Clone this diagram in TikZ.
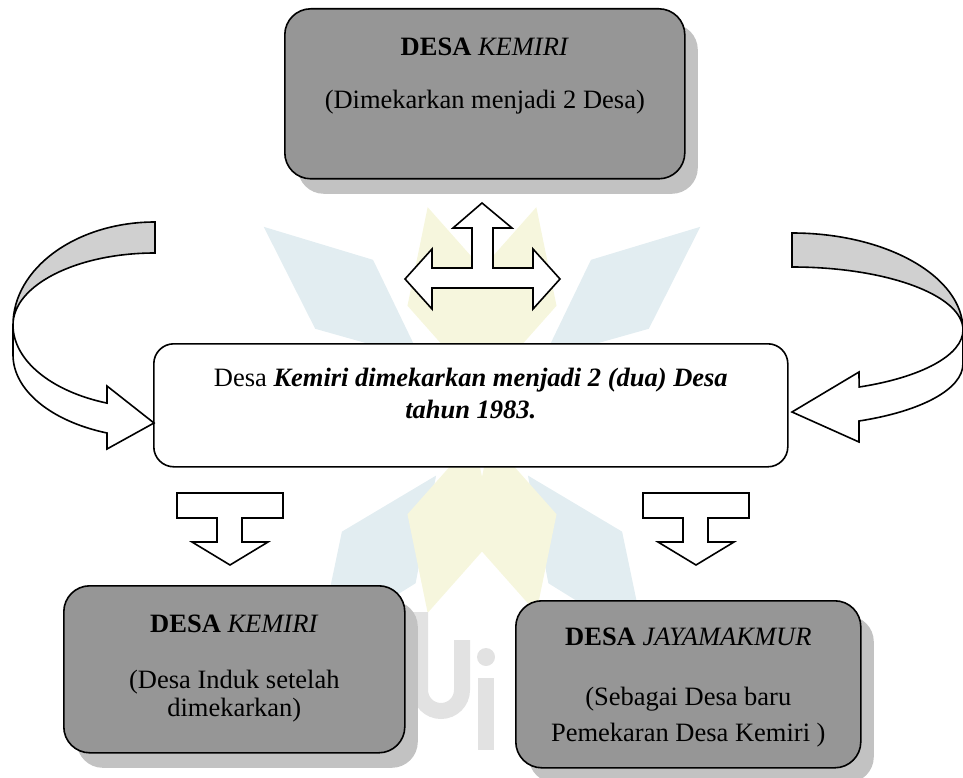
\documentclass[tikz,border=0pt]{standalone}
\usepackage{fontspec}
\setmainfont{Liberation Serif}
\usetikzlibrary{shadows}

\definecolor{boxgray}{RGB}{150,150,150}
\definecolor{shadowgray}{RGB}{194,194,194}
\definecolor{bandgray}{RGB}{208,208,208}
\definecolor{markteal}{RGB}{226,237,241}
\definecolor{markyellow}{RGB}{246,246,221}
\definecolor{markgray}{RGB}{226,226,226}

\begin{document}
\begin{tikzpicture}[
    x=1pt, y=-1pt,
    font=\fontsize{26.5}{30}\selectfont,
    desabox/.style={rectangle, draw, line width=1.6pt, rounded corners=26pt, fill=boxgray, anchor=north west, inner sep=0pt, align=center, drop shadow={shadow xshift=13pt, shadow yshift=-15pt, fill=shadowgray, opacity=1}},
    midbox/.style={rectangle, draw, line width=1.6pt, rounded corners=20pt, fill=white, anchor=north west, inner sep=0pt, align=center},
    blockarrow/.style={draw, line width=1.6pt, fill=white},
    backband/.style={draw, line width=1.6pt, fill=bandgray},
    petal/.style={draw=none}
]
\useasboundingbox (0,0) rectangle (963,778);

% watermark
\foreach \ang/\col in {235/markteal, 305/markteal, 140/markteal, 40/markteal}
  \fill[petal, \col, shift={(482,410)}, rotate=\ang] (80,0) -- (180,-45) -- (285,0) -- (180,45) -- cycle;
\foreach \ang/\col in {255/markyellow, 285/markyellow, 75/markyellow, 105/markyellow}
  \fill[petal, \col, shift={(482,410)}, rotate=\ang] (30,0) -- (120,-45) -- (210,0) -- (120,45) -- cycle;
\draw[markgray, line width=16pt] (420,612) -- (420,690) arc[start angle=180, end angle=0, x radius=21, y radius=21] -- (462,640);
\fill[markgray] (478,678) rectangle (494,750);
\fill[markgray] (486,657) circle[radius=9];

\node[desabox, minimum width=400pt, text height=100pt, text depth=70pt] (kemiri) at (284,8) {\textbf{DESA} \textit{KEMIRI}\\[23pt] (Dimekarkan menjadi 2 Desa)};
\node[midbox, minimum width=634pt, text height=75pt, text depth=48pt] (pemekaran) at (153,343) {Desa \textbf{\textit{Kemiri dimekarkan menjadi 2 (dua) Desa}}\\[2pt] \textbf{\textit{tahun 1983.}}};
\node[desabox, minimum width=341pt, text height=131pt, text depth=36pt] (induk) at (63,585) {\textbf{DESA} \textit{KEMIRI}\\[26pt] (Desa Induk setelah\\[-2pt] dimekarkan)};
\node[desabox, minimum width=345pt, text height=141pt, text depth=26pt] (jayamakmur) at (515,600) {\textbf{DESA} \textit{JAYAMAKMUR}\\[30pt] (Sebagai Desa baru\\[6pt] Pemekaran Desa Kemiri )};

% four-way arrow
\draw[blockarrow] (482,203) -- (512,228) -- (493,228) -- (493,268) -- (533,268) -- (533,249) -- (560,279) -- (533,309) -- (533,288) -- (432,288) -- (432,309) -- (405,279) -- (432,249) -- (432,268) -- (472,268) -- (472,228) -- (453,228) -- cycle;

% down arrows
\draw[blockarrow] (177,493) -- (283,493) -- (283,518) -- (242,518) -- (242,542) -- (268,542) -- (230,565) -- (192,542) -- (217,542) -- (217,518) -- (177,518) -- cycle;
\draw[blockarrow] (643,493) -- (749,493) -- (749,518) -- (708,518) -- (708,542) -- (734,542) -- (696,565) -- (658,542) -- (683,542) -- (683,518) -- (643,518) -- cycle;

% curved arrows
\draw[backband] (155,222) arc[start angle=270, end angle=180, x radius=142, y radius=103] arc[start angle=180, end angle=270, x radius=142, y radius=72] -- cycle;
\draw[blockarrow] (13,325) arc[start angle=180, end angle=109.76, x radius=142, y radius=83] -- (107,386) -- (154,423) -- (107,449) -- (107,433) arc[start angle=109.76, end angle=180, x radius=142, y radius=83] -- cycle;
\draw[backband] (792,233) arc[start angle=270, end angle=360, x radius=171, y radius=97] arc[start angle=0, end angle=-90, x radius=171, y radius=63] -- cycle;
\draw[blockarrow] (963,330) arc[start angle=0, end angle=66.9, x radius=171, y radius=62] -- (859,372) -- (792,412) -- (859,442) -- (859,421) arc[start angle=66.9, end angle=0, x radius=171, y radius=62] -- cycle;
\end{tikzpicture}
\end{document}
